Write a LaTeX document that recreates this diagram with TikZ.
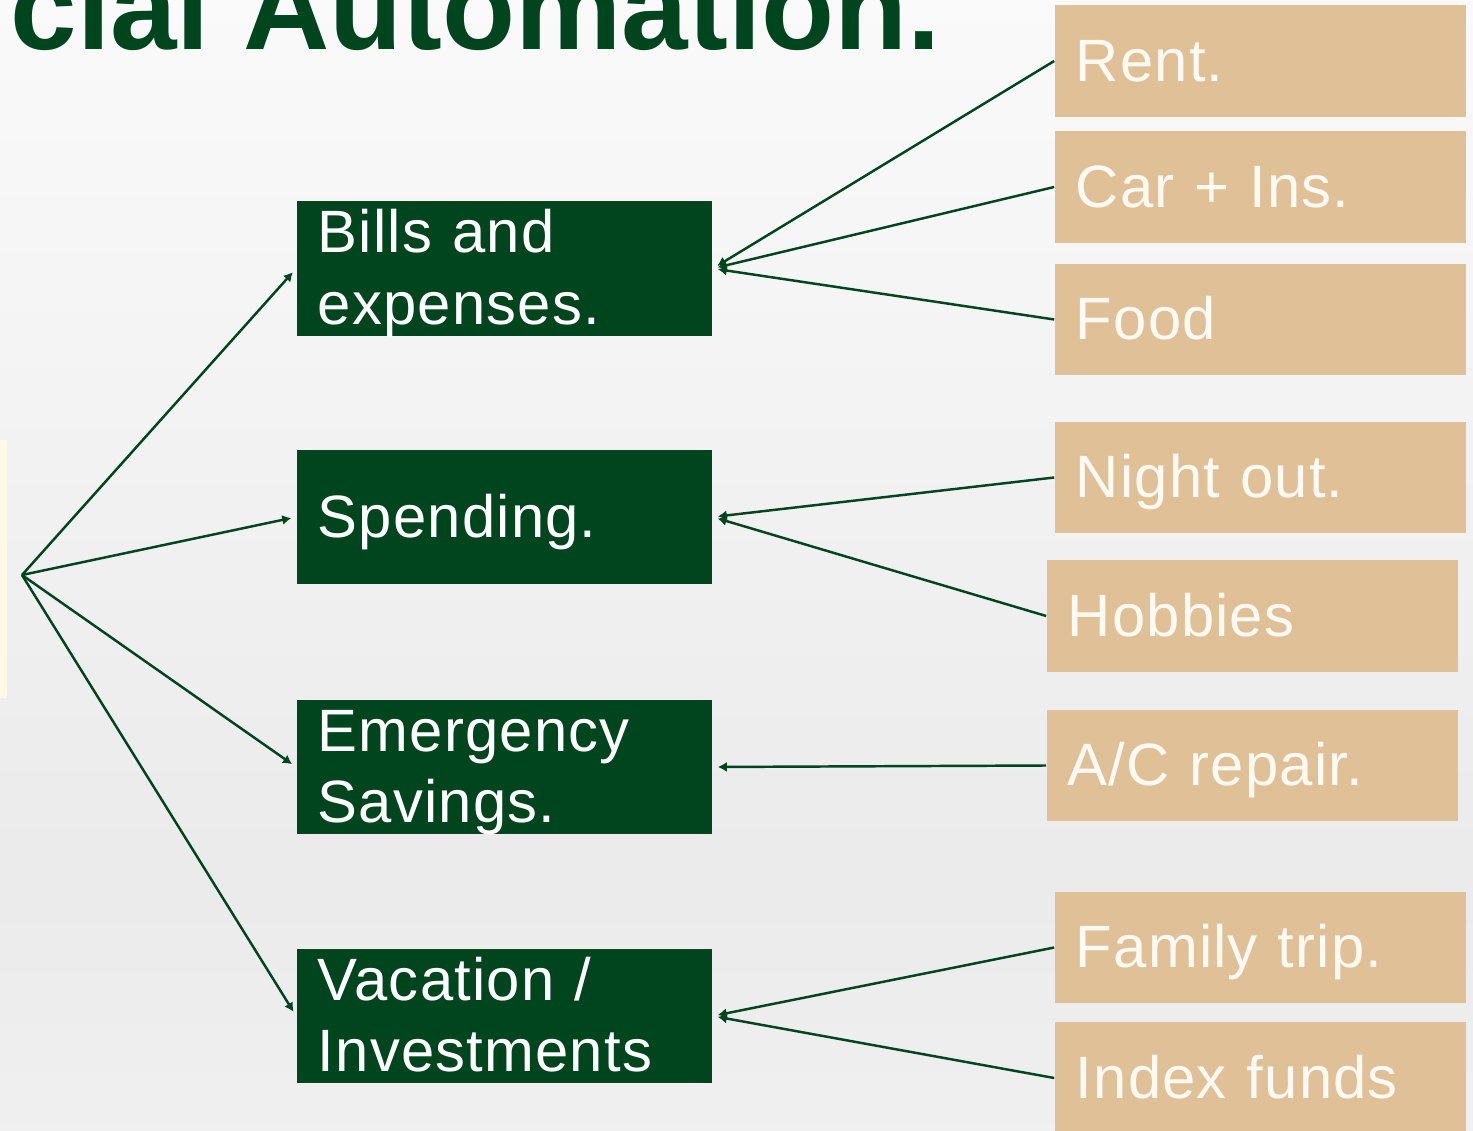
\documentclass[tikz,border=0pt]{standalone}
\usepackage{fontspec}
\setmainfont[LetterSpace=2]{Liberation Sans}
\newfontfamily\titlefont{Liberation Sans}
\usetikzlibrary{arrows.meta}
\definecolor{fingreen}{HTML}{00451E}
\definecolor{fintan}{HTML}{E0C096}
\definecolor{fintext}{HTML}{FDF9F3}
\definecolor{fincream}{HTML}{FFF8E6}

\begin{document}
\begin{tikzpicture}[x=0.01cm,y=-0.01cm,
  every node/.style={font=\fontsize{17}{20.2}\selectfont},
  bucket/.style={fill=fingreen, text=white, align=left, text width=3.73cm, inner xsep=0.21cm, inner ysep=0pt, minimum height=1.34cm},
  expense/.style={fill=fintan, text=fintext, align=left, text width=3.69cm, inner xsep=0.21cm, inner ysep=0pt, minimum height=1.11cm},
  oneline/.style={text height=0.42cm, text depth=0.02cm},
  twoline/.style={text height=0.45cm, text depth=0.76cm},
  flow/.style={draw=fingreen, line width=0.7pt, -{Latex[length=0.09cm,width=0.1cm]}, shorten >=0.05cm}]
% page and background
\useasboundingbox (0,0) rectangle (1473,1131);
\clip (0,0) rectangle (1473,1131);
\shade[top color=black!2, bottom color=black!8] (0,0) rectangle (1473,880);
\shade[top color=black!8, bottom color=black!6] (0,880) rectangle (1473,1131);
\node[anchor=base west, inner sep=0, text=fingreen, font=\titlefont\fontsize{34}{34}\selectfont\bfseries] (title) at (10,50) {cial Automation.};
\node[fill=fincream, minimum width=0.14cm, minimum height=2.58cm, inner sep=0] (source) at (0,569) {};
\coordinate (hub) at (22,575);
% buckets
\node[bucket, twoline] (bills) at (504.5,268.5) {Bills and\\expenses.};
\node[bucket, oneline] (spending) at (504.5,517) {Spending.};
\node[bucket, twoline] (emergency) at (504.5,767) {Emergency\\Savings.};
\node[bucket, twoline] (vacation) at (504.5,1016) {Vacation /\\Investments};
% expenses
\node[expense, oneline] (rent) at (1260.5,61) {Rent.};
\node[expense, oneline] (car) at (1260.5,187) {Car + Ins.};
\node[expense, oneline] (food) at (1260.5,319.5) {Food};
\node[expense, oneline] (night) at (1260.5,477.5) {Night out.};
\node[expense, oneline] (hobbies) at (1252.5,616) {Hobbies};
\node[expense, oneline] (repair) at (1252.5,765.5) {A/C repair.};
\node[expense, oneline] (trip) at (1260.5,947.5) {Family trip.};
\node[expense, oneline] (index) at (1260.5,1078) {Index funds};
% connectors
\foreach \b in {bills,spending,emergency,vacation}
  \draw[flow] (hub) -- (\b.west);
\draw[flow] (rent.west) -- (bills.east);
\draw[flow] (car.west) -- (bills.east);
\draw[flow] (food.west) -- (bills.east);
\draw[flow] (night.west) -- (spending.east);
\draw[flow] (hobbies.west) -- (spending.east);
\draw[flow] (repair.west) -- (emergency.east);
\draw[flow] (trip.west) -- (vacation.east);
\draw[flow] (index.west) -- (vacation.east);
\end{tikzpicture}
\end{document}
